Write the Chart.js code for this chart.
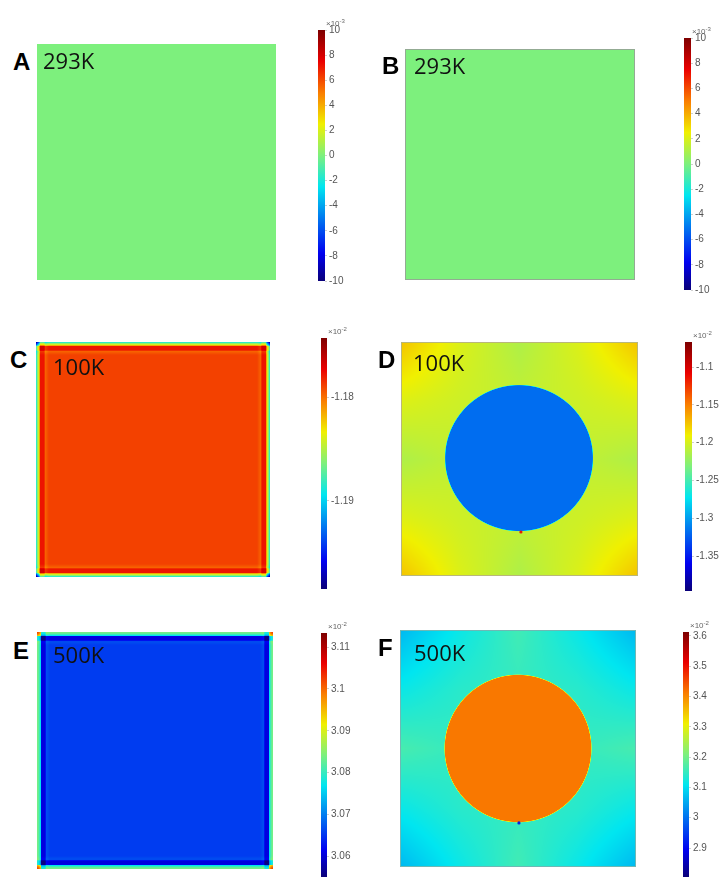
<!DOCTYPE html>
<html>
<head>
<meta charset="utf-8">
<script src="https://cdn.jsdelivr.net/npm/chart.js@4.4.0/dist/chart.umd.min.js"></script>
<style>
  html, body { margin: 0; padding: 0; background: #fff; overflow: hidden; }
  body { width: 721px; height: 877px; position: relative; }
  canvas { position: absolute; display: block; }
  .letra { position: absolute; font: bold 24px "Liberation Sans", Arial, sans-serif; line-height: 24px; color: #000; }
  .temp { position: absolute; font: 22px "Open Sans", sans-serif; line-height: 22px; color: #111; }
  .expo { position: absolute; font: 8px "Liberation Sans", Arial, sans-serif; line-height: 9px; color: #666; white-space: nowrap; }
  .expo sup { font-size: 6px; vertical-align: 3px; }
</style>
</head>
<body>
<script>
const jetPos = [0, 0.11, 0.25, 0.375, 0.5, 0.625, 0.75, 0.875, 1];
const jetCor = [[10, 0, 120], [0, 0, 240], [0, 120, 240], [0, 230, 240], [125, 240, 125], [240, 240, 0], [250, 125, 0], [235, 0, 0], [125, 0, 0]];

const paineis = ['A', 'B', 'C', 'D', 'E', 'F'];
const temperaturas = ['293K', '293K', '100K', '100K', '500K', '500K'];
const expoentes = ['-3', '-3', '-2', '-2', '-2', '-2'];

// Faixas das barras de cores [min, max]
const faixaA = [-10, 10];
const faixaB = [-10, 10];
const faixaC = [-1.1985, -1.1743];
const faixaD = [-1.3963, -1.0669];
const faixaE = [3.0550, 3.1134];
const faixaF = [2.8043, 3.6132];

// Ticks das barras de cores
const ticksA = [-10, -8, -6, -4, -2, 0, 2, 4, 6, 8, 10];
const rotulosA = ['-10', '-8', '-6', '-4', '-2', '0', '2', '4', '6', '8', '10'];
const ticksB = [-10, -8, -6, -4, -2, 0, 2, 4, 6, 8, 10];
const rotulosB = ['-10', '-8', '-6', '-4', '-2', '0', '2', '4', '6', '8', '10'];
const ticksC = [-1.19, -1.18];
const rotulosC = ['-1.19', '-1.18'];
const ticksD = [-1.35, -1.3, -1.25, -1.2, -1.15, -1.1];
const rotulosD = ['-1.35', '-1.3', '-1.25', '-1.2', '-1.15', '-1.1'];
const ticksE = [3.06, 3.07, 3.08, 3.09, 3.1, 3.11];
const rotulosE = ['3.06', '3.07', '3.08', '3.09', '3.1', '3.11'];
const ticksF = [2.9, 3, 3.1, 3.2, 3.3, 3.4, 3.5, 3.6];
const rotulosF = ['2.9', '3', '3.1', '3.2', '3.3', '3.4', '3.5', '3.6'];

// Campos: valor uniforme (A, B)
const baseA = 0;
const baseB = 0;

// Perfil junto às bordas (distância em fração do lado) - C e E
const bordaDistC = [0, 0.0064, 0.0128, 0.0191, 0.034, 0.0404, 0.0553];
const bordaValC = [-1.1894, -1.186, -1.1834, -1.1778, -1.1778, -1.1797, -1.1789];
const bordaDistE = [0, 0.0085, 0.0148, 0.0191, 0.034, 0.0404, 0.0553];
const bordaValE = [3.0842, 3.082, 3.0769, 3.0605, 3.0605, 3.0668, 3.0655];

// Fundo em grade 5x5 (linha de cima para baixo) e inclusão circular - D e F
const gradeD = [
  [-1.174, -1.198, -1.214, -1.198, -1.174],
  [-1.197, -1.203, -1.207, -1.203, -1.197],
  [-1.214, -1.207, -1.205, -1.207, -1.214],
  [-1.197, -1.203, -1.207, -1.203, -1.197],
  [-1.174, -1.198, -1.214, -1.198, -1.174]
];
const circuloD = [0.498, 0.504, 0.312];
const valorCirculoD = -1.318;
const defeitoD = [{ x: 0.506, y: 0.188 }];

const gradeF = [
  [3.065, 3.115, 3.160, 3.115, 3.065],
  [3.115, 3.140, 3.150, 3.140, 3.115],
  [3.165, 3.150, 3.150, 3.150, 3.165],
  [3.115, 3.140, 3.150, 3.140, 3.115],
  [3.065, 3.115, 3.160, 3.115, 3.065]
];
const circuloF = [0.5, 0.5, 0.311];
const valorCirculoF = 3.415;
const defeitoF = [{ x: 0.504, y: 0.186 }];

const campos = {
  A: { base: baseA, faixa: faixaA, ticks: ticksA, rotulos: rotulosA },
  B: { base: baseB, faixa: faixaB, ticks: ticksB, rotulos: rotulosB, borda: '#93ab93' },
  C: { base: bordaValC[bordaValC.length - 1], bordaDist: bordaDistC, bordaVal: bordaValC, faixa: faixaC, ticks: ticksC, rotulos: rotulosC },
  D: { grade: gradeD, circulo: circuloD, valorCirculo: valorCirculoD, defeito: defeitoD, corDefeito: '#e81c00', faixa: faixaD, ticks: ticksD, rotulos: rotulosD, borda: '#b9b77a' },
  E: { base: bordaValE[bordaValE.length - 1], bordaDist: bordaDistE, bordaVal: bordaValE, faixa: faixaE, ticks: ticksE, rotulos: rotulosE },
  F: { grade: gradeF, circulo: circuloF, valorCirculo: valorCirculoF, defeito: defeitoF, corDefeito: '#0a1ee0', faixa: faixaF, ticks: ticksF, rotulos: rotulosF, borda: '#6fb8b4' }
};

// Posições na página (px)
const layoutMapa = {
  A: [37, 44, 239, 236], B: [405, 49, 230, 231], C: [36, 342, 234, 235],
  D: [401, 342, 237, 234], E: [37, 632, 236, 237], F: [400, 630, 236, 237]
};
const layoutBarra = { // [esquerda, topo, largura, base]
  A: [318, 30, 7, 281], B: [684, 38, 7, 290], C: [321, 338, 6, 589],
  D: [685, 342, 7, 591], E: [321, 633, 6, 877], F: [683, 632, 6, 877]
};
const layoutTexto = { // [letra x, letra topo, temp x, temp topo]
  A: [13, 53, 43, 53], B: [382, 57, 414, 58], C: [10, 351, 53, 359],
  D: [378, 351, 413, 355], E: [13, 642, 53, 647], F: [378, 639, 414, 645]
};

function corJet(t) {
  t = Math.max(0, Math.min(1, t));
  let k = 1;
  while (k < jetPos.length - 1 && t > jetPos[k]) k++;
  const f = (t - jetPos[k - 1]) / (jetPos[k] - jetPos[k - 1]);
  return jetCor[k - 1].map((c, n) => Math.round(c + (jetCor[k][n] - c) * f));
}

function perfil(p, d) {
  const ds = p.bordaDist, vs = p.bordaVal;
  if (d >= ds[ds.length - 1]) return vs[vs.length - 1];
  let k = 1;
  while (d > ds[k]) k++;
  const f = (d - ds[k - 1]) / (ds[k] - ds[k - 1]);
  return vs[k - 1] + (vs[k] - vs[k - 1]) * f;
}

function bilinear(g, u, w) {
  const n = g.length - 1;
  const gx = Math.max(0, Math.min(n, u * n)), gy = Math.max(0, Math.min(n, w * n));
  const i = Math.min(n - 1, Math.floor(gx)), j = Math.min(n - 1, Math.floor(gy));
  const fx = gx - i, fy = gy - j;
  const a = g[j][i] * (1 - fx) + g[j][i + 1] * fx;
  const b = g[j + 1][i] * (1 - fx) + g[j + 1][i + 1] * fx;
  return a * (1 - fy) + b * fy;
}

// Valor do campo num ponto (vx, vy) em unidades dos eixos
function valorCampo(p, vx, vy) {
  let v = p.grade ? bilinear(p.grade, vx, 1 - vy) : p.base;
  if (p.bordaDist) {
    const interior = p.bordaVal[p.bordaVal.length - 1];
    v += (perfil(p, Math.min(vx, 1 - vx)) - interior) + (perfil(p, Math.min(vy, 1 - vy)) - interior);
  }
  if (p.circulo) {
    const [cx, cy, r] = p.circulo;
    const d = Math.hypot(vx - cx, vy - cy) - r;
    const t = Math.max(0, Math.min(1, 0.5 - d / 0.0045));
    v = v * (1 - t) + p.valorCirculo * t;
  }
  return v;
}

// Plugin que pinta o campo usando as escalas do gráfico
const campoPlugin = {
  id: 'campo',
  beforeDatasetsDraw(chart, args, opts) {
    const p = campos[opts.painel];
    if (!p) return;
    const { ctx, chartArea: a, scales: { x, y } } = chart;
    const w = Math.round(a.right - a.left), h = Math.round(a.bottom - a.top);
    const off = document.createElement('canvas');
    off.width = w; off.height = h;
    const octx = off.getContext('2d');
    const img = octx.createImageData(w, h);
    for (let j = 0; j < h; j++) {
      const vy = y.getValueForPixel(a.top + j + 0.5);
      for (let i = 0; i < w; i++) {
        const vx = x.getValueForPixel(a.left + i + 0.5);
        const c = corJet((valorCampo(p, vx, vy) - p.faixa[0]) / (p.faixa[1] - p.faixa[0]));
        const k = (j * w + i) * 4;
        img.data[k] = c[0]; img.data[k + 1] = c[1]; img.data[k + 2] = c[2]; img.data[k + 3] = 255;
      }
    }
    octx.putImageData(img, 0, 0);
    ctx.drawImage(off, a.left, a.top);
    if (p.borda) {
      ctx.save();
      ctx.strokeStyle = p.borda;
      ctx.lineWidth = 1;
      ctx.strokeRect(a.left + 0.5, a.top + 0.5, w - 1, h - 1);
      ctx.restore();
    }
  }
};

function criarCanvas(x, y, w, h) {
  const c = document.createElement('canvas');
  c.width = w; c.height = h;
  c.style.left = x + 'px'; c.style.top = y + 'px';
  c.style.width = w + 'px'; c.style.height = h + 'px';
  document.body.appendChild(c);
  return c;
}

function criarTexto(cls, x, y, html) {
  const d = document.createElement('div');
  d.className = cls;
  d.style.left = x + 'px'; d.style.top = y + 'px';
  d.innerHTML = html;
  document.body.appendChild(d);
}

function desenharMapa(nome) {
  const p = campos[nome];
  const [x, y, w, h] = layoutMapa[nome];
  new Chart(criarCanvas(x, y, w, h), {
    type: 'scatter',
    data: {
      datasets: [{
        data: p.defeito || [],
        pointRadius: 1.6,
        pointBorderWidth: 0,
        pointBackgroundColor: p.corDefeito || '#000'
      }]
    },
    options: {
      responsive: false, animation: false, devicePixelRatio: 1,
      layout: { padding: 0, autoPadding: false },
      plugins: { legend: { display: false }, tooltip: { enabled: false }, campo: { painel: nome } },
      scales: {
        x: { type: 'linear', min: 0, max: 1, display: false },
        y: { type: 'linear', min: 0, max: 1, display: false }
      }
    },
    plugins: [campoPlugin]
  });
}

function gradiente(chart) {
  const a = chart.chartArea;
  if (!a) return '#7ef07e';
  const g = chart.ctx.createLinearGradient(0, a.bottom, 0, a.top);
  jetPos.forEach((t, i) => g.addColorStop(t, `rgb(${jetCor[i].join(',')})`));
  return g;
}

function desenharBarra(nome) {
  const p = campos[nome];
  const [x, topo, w, base] = layoutBarra[nome];
  const eixo = 32, pad = 12;
  new Chart(criarCanvas(x, topo - pad, w + eixo, base - topo + 2 * pad), {
    type: 'bar',
    data: {
      labels: [''],
      datasets: [{
        data: [[p.faixa[0], p.faixa[1]]],
        backgroundColor: ctx => gradiente(ctx.chart),
        borderWidth: 0,
        barPercentage: 1,
        categoryPercentage: 1
      }]
    },
    options: {
      responsive: false, animation: false, devicePixelRatio: 1,
      layout: { padding: { top: pad, bottom: pad, left: 0, right: 0 }, autoPadding: false },
      plugins: { legend: { display: false }, tooltip: { enabled: false } },
      scales: {
        x: { display: false },
        y: {
          position: 'right',
          min: p.faixa[0], max: p.faixa[1],
          afterBuildTicks: s => { s.ticks = p.ticks.map(v => ({ value: v })); },
          afterFit: s => { s.width = eixo; },
          grid: { drawOnChartArea: false, drawTicks: true, tickLength: 2, color: '#d0d0d0' },
          border: { display: false },
          ticks: {
            autoSkip: false, maxRotation: 0, padding: 2,
            color: '#555',
            font: { size: 10, family: '"Liberation Sans", Arial, sans-serif' },
            callback: (v, i) => p.rotulos[i]
          }
        }
      }
    }
  });
  criarTexto('expo', x + w + 1, topo - 13, `×10<sup>${expoentes[paineis.indexOf(nome)]}</sup>`);
}

paineis.forEach((nome, i) => {
  desenharMapa(nome);
  desenharBarra(nome);
  const [lx, ly, tx, ty] = layoutTexto[nome];
  criarTexto('letra', lx, ly - 3, nome);
  criarTexto('temp', tx, ty - 4, temperaturas[i]);
});
</script>
</body>
</html>
